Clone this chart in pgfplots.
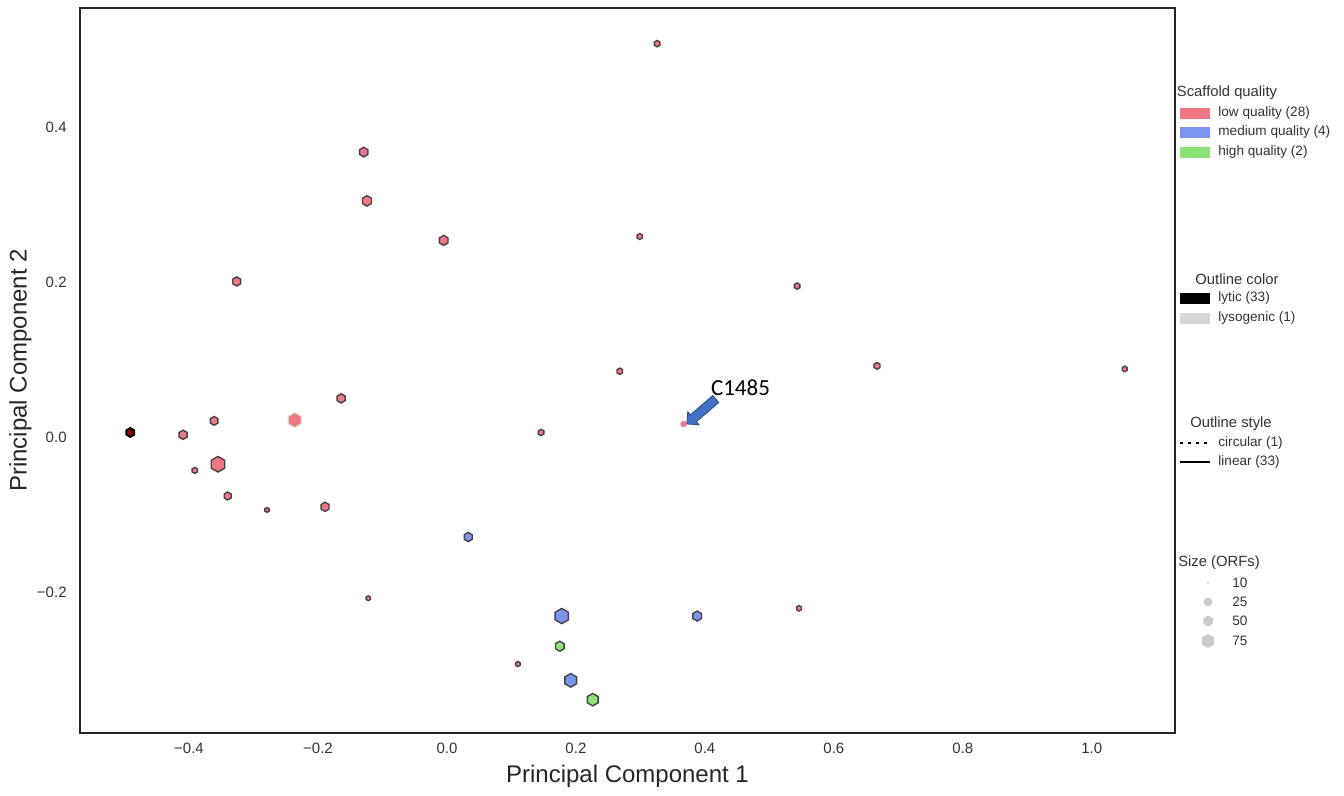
\documentclass[border=0pt]{standalone}
\usepackage{pgfplots}
\pgfplotsset{compat=1.18}
\usepackage{fontspec}
\setmainfont{Liberation Sans}
\newfontfamily\calibri{Carlito}
\usetikzlibrary{shapes.arrows}
\definecolor{redf}{RGB}{240,120,132}
\definecolor{bluef}{RGB}{122,150,238}
\definecolor{greenf}{RGB}{140,228,120}
\definecolor{outl}{RGB}{75,65,70}
\definecolor{lysog}{RGB}{215,215,215}
\definecolor{txt}{RGB}{50,50,50}
\definecolor{arrowblue}{RGB}{68,114,196}
\definecolor{arrowdark}{RGB}{47,82,143}
\pgfdeclareplotmark{hex}{%
  \pgfpathmoveto{\pgfpointpolar{30}{\pgfplotmarksize}}%
  \pgfpathlineto{\pgfpointpolar{90}{\pgfplotmarksize}}%
  \pgfpathlineto{\pgfpointpolar{150}{\pgfplotmarksize}}%
  \pgfpathlineto{\pgfpointpolar{210}{\pgfplotmarksize}}%
  \pgfpathlineto{\pgfpointpolar{270}{\pgfplotmarksize}}%
  \pgfpathlineto{\pgfpointpolar{330}{\pgfplotmarksize}}%
  \pgfpathclose
  \pgfusepathqfillstroke}
\pgfplotsset{sized/.style={scatter, only marks, mark=hex, line width=0.7pt,
  scatter/use mapped color={draw=outl, fill=#1},
  visualization depends on={\thisrow{s} \as \msize},
  scatter/@pre marker code/.append style={/tikz/mark size=\msize}}}
\pgfplotstableread{
x y s
0.326 0.508 1.6
-0.129 0.368 2.4
-0.124 0.305 2.6
-0.005 0.254 2.5
0.299 0.259 1.5
-0.326 0.201 2.3
0.543 0.195 1.6
0.667 0.092 1.7
1.051 0.088 1.4
0.268 0.085 1.6
-0.164 0.050 2.3
-0.409 0.003 2.3
-0.361 0.021 2.2
0.146 0.006 1.6
-0.355 -0.035 3.9
-0.391 -0.043 1.5
-0.340 -0.076 2.0
-0.279 -0.094 1.2
-0.189 -0.090 2.3
-0.122 -0.208 1.2
0.110 -0.293 1.3
0.546 -0.221 1.4
}\lowq
\pgfplotstableread{
x y s
0.033 -0.129 2.3
0.178 -0.231 3.8
0.388 -0.231 2.5
0.192 -0.314 3.4
}\medq
\pgfplotstableread{
x y s
0.175 -0.270 2.5
0.226 -0.339 3.1
}\highq
\begin{document}
\begin{tikzpicture}
\useasboundingbox (0,0) rectangle (672pt,-398pt);
\begin{axis}[
  at={(40pt,-366.5pt)}, anchor=south west,
  scale only axis, width=547.5pt, height=362.5pt,
  xmin=-0.569, xmax=1.129, ymin=-0.382, ymax=0.554,
  axis line style={line width=1pt, black!85},
  major tick length=0pt,
  xtick={-0.4,-0.2,0,0.2,0.4,0.6,0.8,1.0},
  xticklabels={−0.4,−0.2,0.0,0.2,0.4,0.6,0.8,1.0},
  ytick={-0.2,0,0.2,0.4},
  yticklabels={−0.2,0.0,0.2,0.4},
  ticklabel style={font=\fontsize{7.5}{9}\selectfont, text=txt},
  xticklabel style={anchor=north, inner sep=0pt, yshift=-5pt},
  yticklabel style={anchor=east, inner sep=0pt, xshift=-6.5pt},
  xlabel={Principal Component 1},
  ylabel={Principal Component 2},
  label style={font=\fontsize{12}{14}\selectfont, text=black!85},
  xlabel style={at={(axis description cs:0.5,0)}, anchor=north, inner sep=0pt, yshift=-16pt},
  ylabel style={at={(axis description cs:-0.0438,0.5)}, rotate=0, anchor=south, inner sep=0pt},
  clip=false,
]
\addplot[sized=redf] table[x=x,y=y] {\lowq};
\addplot[sized=bluef] table[x=x,y=y] {\medq};
\addplot[sized=greenf] table[x=x,y=y] {\highq};
% dark overlapped point
\addplot[only marks, mark=hex, mark size=2.2, line width=1pt, draw=black, fill=red!55!black] coordinates {(-0.491,0.006)};
% lysogenic large point
\addplot[only marks, mark=hex, mark size=3.7, line width=0.5pt, draw=lysog, fill=redf] coordinates {(-0.236,0.022)};
% C1485 (circular)
\addplot[only marks, mark=*, mark size=1.5, draw=redf!80!white, fill=redf] coordinates {(0.367,0.017)};
\end{axis}
\begin{scope}[x=0.5pt, y=-0.5pt]
  % arrow annotation
  \node[single arrow, draw=arrowdark, fill=arrowblue, line width=0.5pt,
        minimum height=19pt, inner sep=2pt, single arrow head extend=2pt,
        single arrow head indent=0pt, rotate=220.8] at (703,410) {};
  \node[font=\calibri\fontsize{11.5}{13}\selectfont, anchor=west] at (704,388) {C1485};
  % legends
  \begin{scope}[every node/.style={font=\fontsize{6.8}{8}\selectfont, text=txt, anchor=west, inner sep=0pt}]
    \node[font=\fontsize{7.4}{9}\selectfont, anchor=center] at (1227,93) {Scaffold quality};
    \fill[redf] (1180,108) rectangle (1210,119);
    \fill[bluef] (1180,127) rectangle (1210,138);
    \fill[greenf] (1180,147) rectangle (1210,158);
    \node at (1218,113) {low quality (28)};
    \node at (1218,132) {medium quality (4)};
    \node at (1218,152) {high quality (2)};
    \node[font=\fontsize{7.4}{9}\selectfont, anchor=center] at (1237,279) {Outline color};
    \fill[black] (1180,293) rectangle (1210,304);
    \fill[lysog] (1180,313) rectangle (1210,324);
    \node at (1218,298) {lytic (33)};
    \node at (1218,318) {lysogenic (1)};
    \node[font=\fontsize{7.4}{9}\selectfont, anchor=center] at (1231,424) {Outline style};
    \draw[black, line width=1.2pt, dash pattern=on 1.5pt off 2.5pt] (1180,443) -- (1210,443);
    \draw[black, line width=1.3pt] (1180,462) -- (1210,462);
    \node at (1218,443) {circular (1)};
    \node at (1218,462) {linear (33)};
    \node[font=\fontsize{7.4}{9}\selectfont, anchor=center] at (1219,563) {Size (ORFs)};
    \fill[lysog!85!gray] (1208,583) circle (0.6pt);
    \fill[lysog!85!gray] (1208,602) circle (2.2pt);
    \fill[lysog!85!gray] (1208,621) ++(30:5.5) -- ++(150:5.5) -- ++(210:5.5) -- ++(270:5.5) -- ++(330:5.5) -- ++(30:5.5) -- cycle;
    \fill[lysog!85!gray] (1208,641) ++(30:7) -- ++(150:7) -- ++(210:7) -- ++(270:7) -- ++(330:7) -- ++(30:7) -- cycle;
    \node at (1232,583) {10};
    \node at (1232,602) {25};
    \node at (1232,621) {50};
    \node at (1232,641) {75};
  \end{scope}
\end{scope}
\end{tikzpicture}
\end{document}
